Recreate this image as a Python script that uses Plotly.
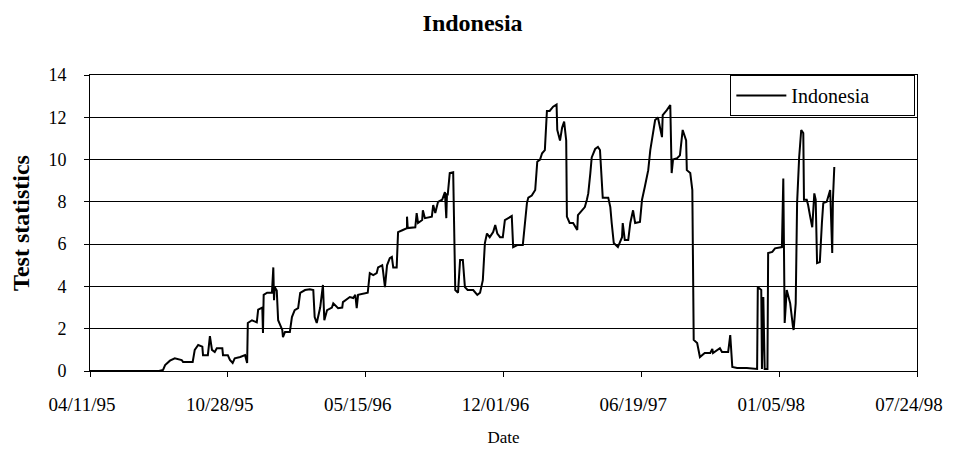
import pandas as pd
import plotly.graph_objects as go

START_DATE = "1995-04-11"
END_DATE = "1998-07-24"

# Day offsets from START_DATE and test-statistic values
day_offsets = [0, 100, 106, 109, 116, 123, 133, 135, 149, 152, 157, 163, 164, 171, 174, 177, 181, 184, 192, 193,
               200, 203, 207, 210, 218, 225, 228, 229, 235, 242, 244, 250, 251, 252, 257, 264, 266, 267, 268, 271,
               273, 279, 280, 283, 290, 293, 297, 302, 305, 312, 319, 324, 326, 329, 334, 337, 338, 340, 344, 351,
               353, 360, 366, 367, 377, 382, 385, 387, 389, 403, 406, 411, 416, 418, 424, 425, 428, 431, 435, 438,
               440, 445, 447, 454, 460, 460, 461, 472, 474, 476, 482, 483, 486, 496, 498, 501, 505, 511, 515, 517,
               518, 519, 522, 527, 530, 534, 537, 541, 544, 548, 556, 562, 566, 570, 573, 576, 580, 585, 588, 591,
               595, 599, 602, 609, 612, 614, 620, 628, 634, 636, 641, 646, 649, 653, 656, 660, 663, 667, 672, 677,
               678, 682, 685, 688, 691, 692, 696, 701, 707, 708, 714, 718, 721, 723, 726, 728, 733, 737, 740, 744,
               752, 755, 757, 760, 766, 772, 773, 776, 781, 784, 788, 791, 798, 801, 805, 810, 813, 817, 820, 823,
               824, 830, 831, 837, 842, 844, 846, 852, 856, 860, 865, 866, 871, 874, 875, 876, 881, 885, 892, 900,
               903, 904, 914, 917, 926, 929, 932, 939, 953, 968, 969, 974, 975, 977, 979, 983, 984, 990, 994, 1001,
               1004, 1006, 1008, 1011, 1016, 1020, 1021, 1024, 1026, 1029, 1032, 1035, 1036, 1040, 1042, 1045, 1048,
               1051, 1053, 1055, 1059, 1062, 1064, 1069, 1071, 1074, 1077, 1078, 1080]

test_stats = [0, 0, 0.05, 0.28, 0.49, 0.6, 0.52, 0.43, 0.43, 1.0, 1.23, 1.15, 0.75, 0.75, 1.65, 1.0, 0.9, 1.08, 1.08, 0.75,
              0.75, 0.52, 0.38, 0.6, 0.66, 0.75, 0.38, 2.27, 2.4, 2.3, 2.9, 3.0, 1.8, 3.6, 3.7, 3.7, 4.9, 3.35, 3.97, 3.8,
              2.4, 1.94, 1.6, 1.85, 1.85, 2.55, 2.88, 2.97, 3.7, 3.83, 3.87, 3.83, 2.55, 2.27, 3.0, 3.97, 4.07, 2.4, 2.88, 3.0,
              3.2, 2.97, 3.0, 3.26, 3.5, 3.45, 3.6, 2.97, 3.6, 3.7, 4.63, 4.54, 4.63, 4.9, 5.0, 4.78, 3.97, 5.0, 5.34, 5.4,
              4.9, 4.9, 6.57, 6.67, 6.76, 7.3, 6.76, 6.8, 7.47, 7.0, 7.14, 7.6, 7.23, 7.3, 7.85, 7.47, 8.0, 8.1, 8.46, 7.23,
              8.4, 8.3, 9.36, 9.4, 3.83, 3.7, 5.25, 5.25, 3.97, 3.83, 3.83, 3.6, 3.7, 4.3, 6.05, 6.5, 6.33, 6.57, 6.9, 6.5,
              6.33, 6.33, 7.14, 7.3, 7.33, 5.86, 5.96, 5.96, 7.94, 8.2, 8.3, 8.56, 9.9, 10.0, 10.3, 10.45, 12.3, 12.3, 12.5, 12.6,
              11.4, 10.9, 11.5, 11.8, 10.9, 7.3, 7.0, 7.0, 6.67, 7.37, 7.6, 7.75, 8.1, 8.4, 9.36, 10.1, 10.5, 10.6, 10.45, 8.2,
              8.2, 7.75, 7.0, 6.05, 5.86, 6.33, 7.0, 6.2, 6.2, 7.0, 7.6, 7.0, 7.05, 8.1, 8.7, 9.5, 10.45, 11.25, 11.87, 11.96,
              12.0, 11.06, 12.1, 12.34, 12.58, 9.36, 10.0, 10.07, 10.2, 11.4, 10.9, 9.5, 9.36, 8.56, 3.83, 1.47, 1.32, 0.66, 0.85, 0.85,
              1.04, 0.85, 1.08, 0.9, 0.9, 1.7, 0.19, 0.14, 0.14, 0.1, 3.97, 3.83, 0.1, 3.5, 0.1, 0.1, 5.58, 5.63, 5.8, 5.86,
              5.86, 9.1, 2.27, 3.83, 3.2, 2.1, 1.94, 3.2, 7.94, 10.1, 11.4, 11.25, 8.1, 8.1, 7.85, 7.3, 6.8,
              8.4, 8.1, 5.1, 5.15, 7.0, 7.94, 8.0, 8.2, 8.56, 5.58, 8.1, 9.65]

tick_dates = ["1995-04-11", "1995-10-28", "1996-05-15", "1996-12-01", "1997-06-19", "1998-01-05", "1998-07-24"]
tick_labels = ["04/11/95", "10/28/95", "05/15/96", "12/01/96", "06/19/97", "01/05/98", "07/24/98"]
y_ticks = [0, 2, 4, 6, 8, 10, 12, 14]

dates = pd.Timestamp(START_DATE) + pd.to_timedelta(day_offsets, unit="D")

SERIF = "Liberation Serif, Times New Roman, serif"

fig = go.Figure()
fig.add_trace(go.Scatter(
    x=dates, y=test_stats, mode="lines", name="Indonesia" + "\u00a0" * 8,
    line=dict(color="black", width=2),
))

# page body has an 8px default margin; figure is sized so it fits the 960x450 window
fig.update_layout(
    width=952, height=442,
    paper_bgcolor="white", plot_bgcolor="white",
    margin=dict(l=82, r=43, t=67, b=79, autoexpand=False),
    font=dict(family=SERIF, color="black"),
    title=dict(text="<b>Indonesia</b>", x=0.488, xref="container", xanchor="center",
               y=0.967, yref="container", yanchor="middle",
               font=dict(family=SERIF, size=24, color="black")),
    showlegend=True,
    legend=dict(x=0.998, y=1.0, xanchor="right", yanchor="top",
                bordercolor="black", borderwidth=1, bgcolor="white",
                font=dict(family=SERIF, size=20, color="black"),
                itemwidth=50),
)

fig.update_xaxes(
    type="date", range=[START_DATE, END_DATE],
    tickmode="array", tickvals=tick_dates, ticktext=tick_labels,
    tickfont=dict(family=SERIF, size=19, color="black"),
    ticklabelshift=-8, ticklabelstandoff=11,
    ticks="outside", ticklen=5, tickcolor="black",
    showline=True, linecolor="black", linewidth=1, mirror=True,
    showgrid=False, zeroline=False,
    title=dict(text="Date", font=dict(family=SERIF, size=17, color="black"), standoff=17),
)

fig.update_yaxes(
    range=[0, 14], tickmode="array", tickvals=y_ticks,
    tickfont=dict(family=SERIF, size=18, color="black"),
    ticklabelstandoff=14,
    ticks="outside", ticklen=5, tickcolor="black",
    showline=True, linecolor="black", linewidth=1, mirror=True,
    showgrid=True, gridcolor="black", gridwidth=1, zeroline=False,
    title=dict(text="<b>Test statistics</b>", font=dict(family=SERIF, size=24, color="black"), standoff=18),
)

fig.write_html("out.html")
